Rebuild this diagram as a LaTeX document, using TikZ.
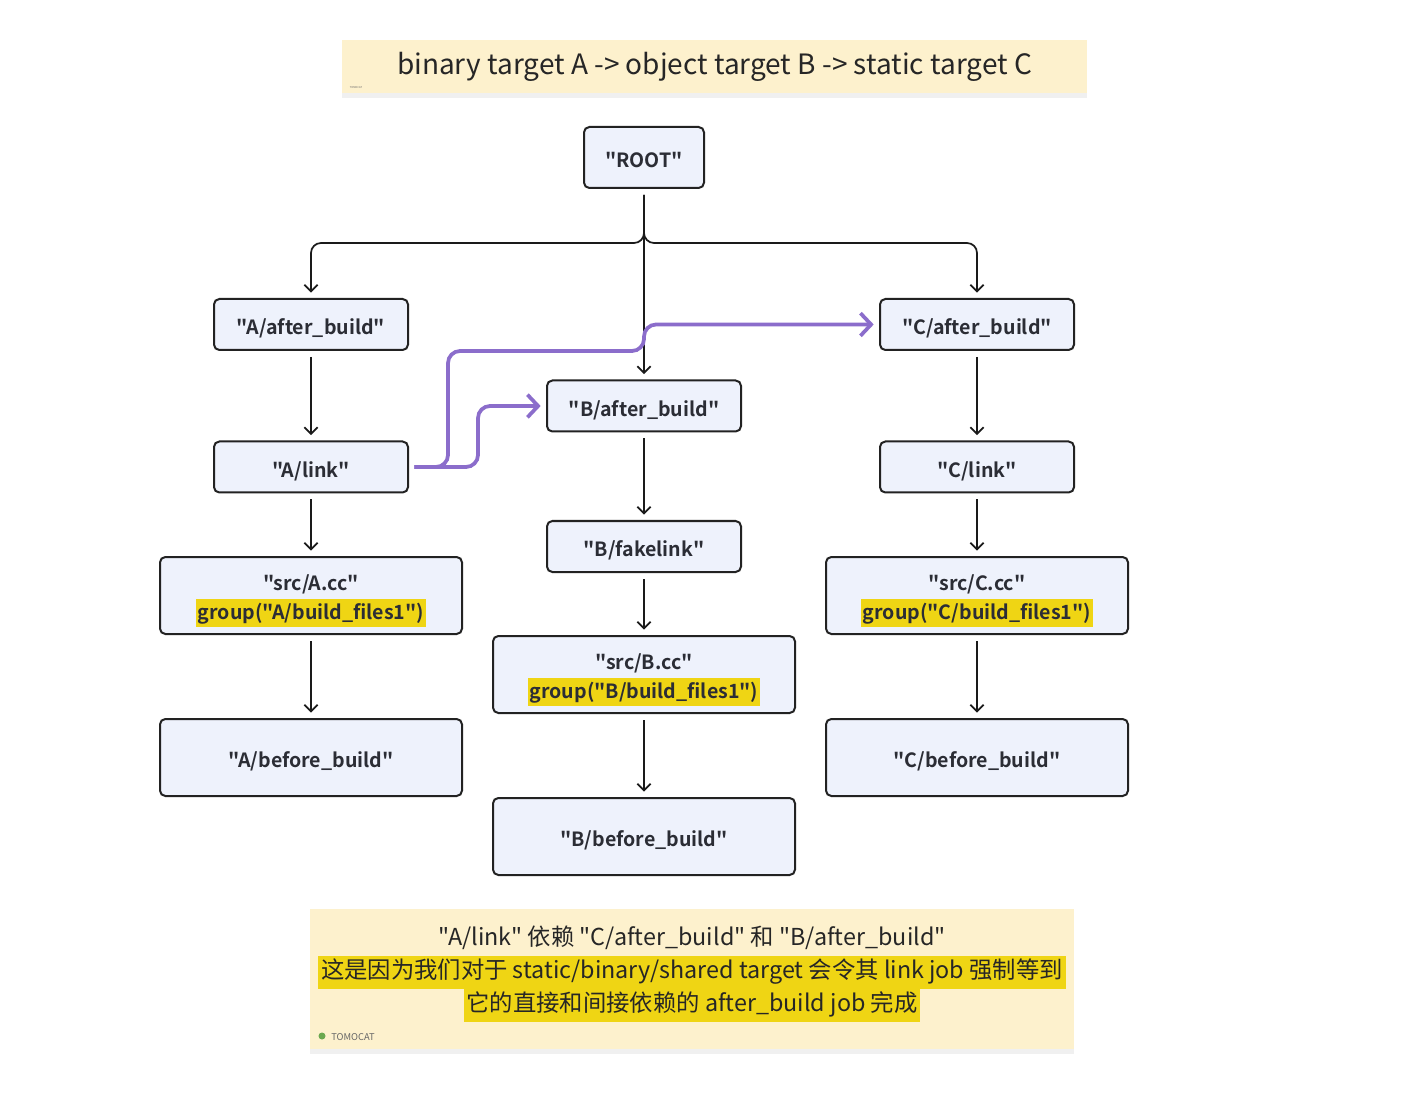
\documentclass[tikz,border=0pt]{standalone}
\usepackage{fontspec}
\newfontfamily\notofont{Noto Sans CJK SC}[BoldFont={Noto Sans CJK SC Bold}]
\usepackage{xcolor}
\usetikzlibrary{arrows.meta,shadows}

\definecolor{boxfill}{HTML}{EEF2FC}
\definecolor{boxline}{HTML}{222222}
\definecolor{inktext}{HTML}{2B2D35}
\definecolor{memofill}{HTML}{FDF1CD}
\definecolor{hlyellow}{HTML}{EFD514}
\definecolor{linkpurple}{HTML}{8B6DCB}
\definecolor{wireblack}{HTML}{1A1A1A}
\definecolor{tomogreen}{HTML}{6BA84F}

\newcommand{\pxu}{0.75pt}
\newcommand{\lbl}[1]{\rule[-3pt]{0pt}{21.4pt}#1}
\newcommand{\toplbl}[1]{\rule{0pt}{20pt}#1}
\newcommand{\hlbox}[1]{{\setlength{\fboxsep}{1.5pt}\colorbox{hlyellow}{\rule[-4.5pt]{0pt}{18pt}#1}}}
\newcommand{\hlline}[1]{{\setlength{\fboxsep}{2pt}\colorbox{hlyellow}{\rule[-5.4pt]{0pt}{20.75pt}#1}}}

\begin{document}
\begin{tikzpicture}[x=\pxu, y=-\pxu,
  box/.style={draw=boxline, line width=1.5pt, fill=boxfill, rounded corners=4pt,
    text=inktext, font=\notofont\bfseries\fontsize{14.7}{21.5}\selectfont, align=center, inner sep=0pt},
  rootbox/.style={box, minimum width=120*\pxu, minimum height=61*\pxu},
  thinbox/.style={box, minimum width=194*\pxu, minimum height=51*\pxu},
  widebox/.style={box, minimum width=302*\pxu, minimum height=77*\pxu},
  memo/.style={fill=memofill, inner sep=0pt,
    drop shadow={opacity=0.12, shadow xshift=0pt, shadow yshift=-4pt}},
  memotext/.style={text=black!85, align=center, inner sep=0pt,
    font=\notofont\fontsize{17.5}{24.75}\selectfont},
  tag/.style={text=black!60, inner sep=0pt, font=\notofont\fontsize{7}{8}\selectfont},
  dep/.style={-{Straight Barb[length=5pt,width=10pt]}, draw=wireblack, line width=1.3pt,
    shorten <=4.5pt, shorten >=4pt},
  link/.style={-{Straight Barb[length=8pt,width=17pt]}, draw=linkpurple, line width=2.8pt,
    rounded corners=9pt, shorten <=4pt, shorten >=4pt}]
  \useasboundingbox (0,0) rectangle (1424,1094);

  % notes
  \node[memo, minimum width=745*\pxu, minimum height=53*\pxu,
    text=black!85, font=\notofont\fontsize{21}{25}\selectfont] (title) at (714.5,66.5)
    {binary target A -> object target B -> static target C};
  \node[tag, font=\notofont\fontsize{2}{2}\selectfont] (titletag) at (356,87.5) {TOMOCAT};
  \node[memo, minimum width=764*\pxu, minimum height=140*\pxu] (remark) at (692,979) {};
  \node[memotext] (remarktext) at (692,974)
    {"A/link" 依赖 "C/after\_build" 和 "B/after\_build"\\
     \hlline{这是因为我们对于 static/binary/shared target 会令其 link job 强制等到}\\
     \hlline{它的直接和间接依赖的 after\_build job 完成}};
  \node[circle, fill=tomogreen, inner sep=0pt, minimum size=7*\pxu] (tomoicon) at (322,1036) {};
  \node[tag, anchor=west] (tomotag) at (331,1037) {TOMOCAT};

  % targets
  \node[rootbox] (root) at (644,157.5) {\lbl{"ROOT"}};
  \node[thinbox] (aafter) at (311,324.5) {\lbl{"A/after\_build"}};
  \node[thinbox] (bafter) at (644,406) {\lbl{"B/after\_build"}};
  \node[thinbox] (cafter) at (977,324.5) {\lbl{"C/after\_build"}};
  \node[thinbox] (alink) at (311,467) {\lbl{"A/link"}};
  \node[thinbox] (clink) at (977,467) {\lbl{"C/link"}};
  \node[thinbox] (bfake) at (644,546.5) {\lbl{"B/fakelink"}};
  \node[widebox] (asrc) at (311,595.5) {\toplbl{"src/A.cc"}\\\hlbox{group("A/build\_files1")}};
  \node[widebox] (csrc) at (977,595.5) {\toplbl{"src/C.cc"}\\\hlbox{group("C/build\_files1")}};
  \node[widebox] (bsrc) at (644,674.5) {\toplbl{"src/B.cc"}\\\hlbox{group("B/build\_files1")}};
  \node[widebox] (abefore) at (311,757.5) {\lbl{"A/before\_build"}};
  \node[widebox] (cbefore) at (977,757.5) {\lbl{"C/before\_build"}};
  \node[widebox] (bbefore) at (644,836.5) {\lbl{"B/before\_build"}};

  % dependencies
  \coordinate (fork) at (644,243);
  \draw[dep, rounded corners=7.5pt] (root.south) -- (fork) -| (aafter.north);
  \draw[dep, rounded corners=7.5pt] (root.south) -- (fork) -| (cafter.north);
  \draw[dep] (root.south) -- (bafter.north);
  \draw[dep] (aafter) -- (alink);
  \draw[dep] (alink) -- (asrc);
  \draw[dep] (asrc) -- (abefore);
  \draw[dep] (bafter) -- (bfake);
  \draw[dep] (bfake) -- (bsrc);
  \draw[dep] (bsrc) -- (bbefore);
  \draw[dep] (cafter) -- (clink);
  \draw[dep] (clink) -- (csrc);
  \draw[dep] (csrc) -- (cbefore);

  % link waits for after_build
  \draw[link] (alink.east) -| (448,351) -| (644,324.5) -- (cafter.west);
  \draw[link] (alink.east) -| (478,406) -- (bafter.west);
\end{tikzpicture}
\end{document}
